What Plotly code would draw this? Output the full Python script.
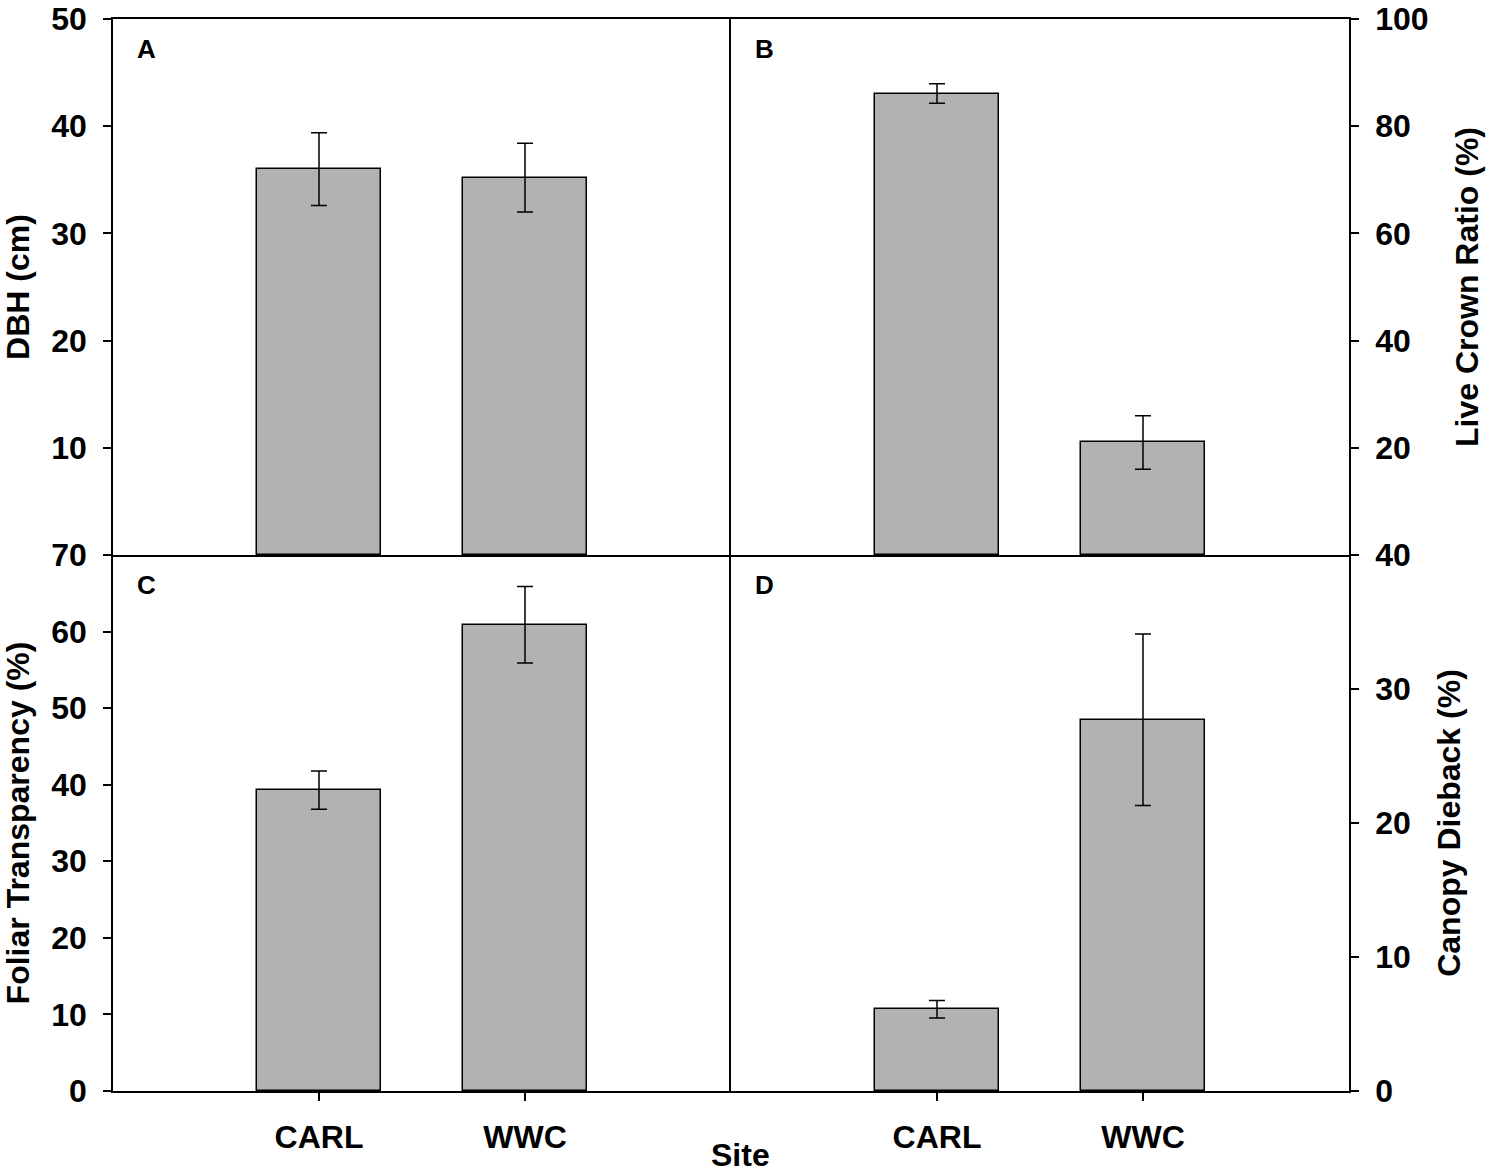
import plotly.graph_objects as go
from plotly.subplots import make_subplots

sites = ["CARL", "WWC"]
dbh = [36.0, 35.2]
dbh_err = [3.4, 3.2]
lcr = [86.1, 21.0]
lcr_err = [1.8, 5.0]
ft = [39.3, 60.9]
ft_err = [2.5, 5.0]
cd = [6.1, 27.7]
cd_err = [0.65, 6.4]

panels = [
    (1, 1, dbh, dbh_err, "DBH (cm)", [0, 50], [10, 20, 30, 40, 50], "left", "A"),
    (1, 2, lcr, lcr_err, "Live Crown Ratio (%)", [0, 100], [20, 40, 60, 80, 100], "right", "B"),
    (2, 1, ft, ft_err, "Foliar Transparency (%)", [0, 70], [0, 10, 20, 30, 40, 50, 60, 70], "left", "C"),
    (2, 2, cd, cd_err, "Canopy Dieback (%)", [0, 40], [0, 10, 20, 30, 40], "right", "D"),
]

FONT = "Liberation Sans, Arial, sans-serif"
fig = make_subplots(rows=2, cols=2, horizontal_spacing=0, vertical_spacing=0)

for i, (r, c, vals, errs, title, yr, tv, side, letter) in enumerate(panels):
    fig.add_trace(go.Bar(
        x=sites, y=vals, width=0.6,
        marker=dict(color="#b2b2b2", line=dict(color="black", width=1.5)),
        error_y=dict(type="data", array=errs, visible=True, color="black",
                     thickness=1.5, width=8),
        showlegend=False,
    ), row=r, col=c)
    fig.update_yaxes(
        range=yr, tickvals=tv, side=side, automargin=False,
        ticklabeloverflow="allow",
        showline=True, mirror=(side == "right"), linecolor="black", linewidth=1.5,
        ticks="outside", ticklen=8, tickwidth=1.5, tickcolor="black",
        showgrid=False, zeroline=False,
        tickfont=dict(family=FONT, size=32, color="black", weight="bold"),
        ticklabelstandoff=10,
        title=dict(text=title, standoff=(18 if side == "left" else 28),
                   font=dict(family=FONT, size=32, color="black", weight="bold")),
        row=r, col=c)
    fig.update_xaxes(
        range=[-1, 2], type="category", automargin=False,
        ticklabeloverflow="allow",
        showline=True, mirror=(r == 1), linecolor="black", linewidth=1.5,
        ticks="outside" if r == 2 else "", ticklen=8, tickwidth=1.5, tickcolor="black",
        showticklabels=(r == 2), showgrid=False, zeroline=False,
        tickfont=dict(family=FONT, size=32, color="black", weight="bold"),
        ticklabelstandoff=9,
        row=r, col=c)
    axn = "" if i == 0 else str(i + 1)
    fig.add_annotation(
        text=letter, xref=f"x{axn} domain", yref=f"y{axn} domain",
        x=0, y=1, xshift=22, yshift=-30, xanchor="left", yanchor="middle",
        showarrow=False,
        font=dict(family=FONT, size=26, color="black", weight="bold"))

fig.add_annotation(
    text="Site", xref="paper", yref="paper", x=0.508, y=-0.0599,
    xanchor="center", yanchor="middle", showarrow=False,
    font=dict(family=FONT, size=32, color="black", weight="bold"))

fig.update_layout(
    width=1487, height=1175,
    margin=dict(l=113, r=138, t=19, b=84),
    plot_bgcolor="white", paper_bgcolor="white",
    bargap=0,
)

# remove the default 8px page margin so the figure fills the window exactly
fig.write_html("out.html", config={"displayModeBar": False},
               post_script="document.body.style.margin='0';")
